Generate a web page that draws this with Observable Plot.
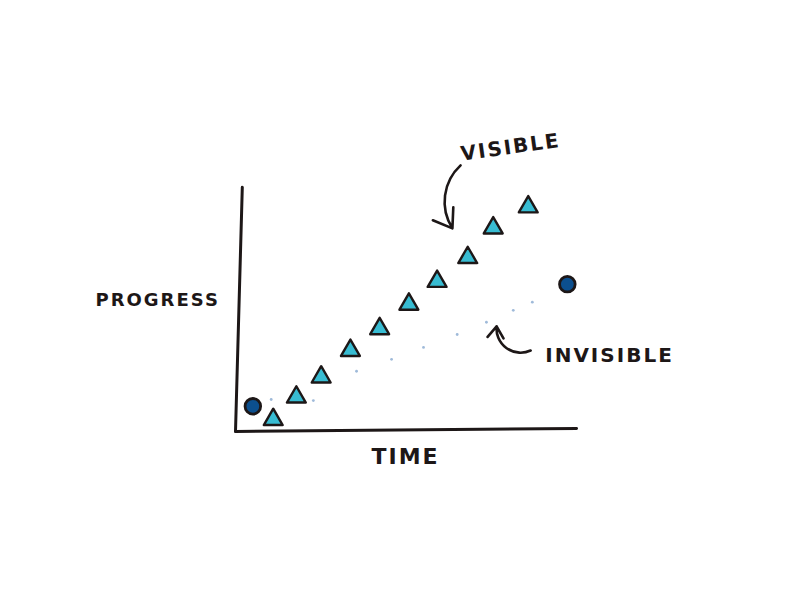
<!DOCTYPE html>
<html><head><meta charset="utf-8">
<script src="https://cdn.jsdelivr.net/npm/d3@7"></script>
<script src="https://cdn.jsdelivr.net/npm/@observablehq/plot@0.6"></script>
<style>
body{margin:0;background:#fff}
.hand text{letter-spacing:2px}
</style>
</head><body><div id="chart"></div>
<script>
// Visible progress (triangles)
const visibleTime = [1.11, 1.79, 2.52, 3.38, 4.24, 5.10, 5.93, 6.83, 7.58, 8.61];
const visibleProgress = [0.35, 1.01, 1.60, 2.38, 3.02, 3.74, 4.41, 5.11, 5.98, 6.60];
// Invisible progress: start and end points (circles)
const invisibleTime = [0.51, 9.76];
const invisibleProgress = [0.74, 4.33];
// Faint trace between the circles
const traceTime = [1.05, 2.29, 3.56, 4.59, 5.53, 6.52, 7.38, 8.17, 8.73];
const traceProgress = [0.94, 0.91, 1.77, 2.12, 2.47, 2.85, 3.21, 3.56, 3.80];
// Axes (hand drawn)
const axisX1 = [0.20, 0];
const axisY1 = [7.18, 0];
const axisX2 = [0, 10.03];
const axisY2 = [0, 0.09];
// Labels
const labels = ["PROGRESS", "TIME", "VISIBLE", "INVISIBLE"];
const labelTime = [-2.29, 5.0, 8.09, 11.0];
const labelProgress = [3.85, -0.76, 8.35, 2.24];
const labelRotate = [0, 0, -8, 0];
const labelSize = [18, 22, 20, 20];
// Annotation arrows
const arrowX1 = [6.62, 8.68];
const arrowY1 = [7.82, 2.38];
const arrowX2 = [6.38, 7.68];
const arrowY2 = [5.97, 3.09];
const arrowBend = [-40, 60];

const ink = "#1d1717";
const visData = visibleTime.map((t, i) => ({t, p: visibleProgress[i]}));
const invData = invisibleTime.map((t, i) => ({t, p: invisibleProgress[i]}));
const traceData = traceTime.map((t, i) => ({t, p: traceProgress[i]}));
const axisData = axisX1.map((x, i) => ({x1: x, y1: axisY1[i], x2: axisX2[i], y2: axisY2[i]}));
const labelData = labels.map((s, i) => ({s, t: labelTime[i], p: labelProgress[i], r: labelRotate[i], fs: labelSize[i]}));
const arrowData = arrowX1.map((x, i) => ({x1: x, y1: arrowY1[i], x2: arrowX2[i], y2: arrowY2[i], b: arrowBend[i]}));

const marks = [
  Plot.link(axisData, {x1: "x1", y1: "y1", x2: "x2", y2: "y2", stroke: ink, strokeWidth: 3, strokeLinecap: "round"}),
  Plot.dot(traceData, {x: "t", y: "p", r: 1.4, fill: "#7fa3cc", fillOpacity: 0.75}),
  Plot.dot(visData, {x: "t", y: "p", symbol: "triangle", r: 7, fill: "#38bcd2", stroke: ink, strokeWidth: 2.4, strokeLinejoin: "round"}),
  Plot.dot(invData, {x: "t", y: "p", r: 7.8, fill: "#0c4f8e", stroke: ink, strokeWidth: 2.8}),
  ...arrowData.map(a => Plot.arrow([a], {x1: "x1", y1: "y1", x2: "x2", y2: "y2", bend: a.b, stroke: ink, strokeWidth: 2.6, headLength: 14, headAngle: 70})),
  ...labelData.map(l => Plot.text([l], {x: "t", y: "p", text: "s", rotate: l.r, fontSize: l.fs, fontWeight: "bold", fontFamily: "DejaVu Sans", fill: ink}))
];

const chart = Plot.plot({
  width: 800,
  height: 600,
  marginLeft: 235,
  marginRight: 225,
  marginTop: 186,
  marginBottom: 169,
  className: "hand",
  style: {background: "#fff"},
  x: {domain: [0, 10], axis: null},
  y: {domain: [0, 7.2], axis: null},
  marks
});
document.getElementById("chart").appendChild(chart);
</script>
</body></html>
